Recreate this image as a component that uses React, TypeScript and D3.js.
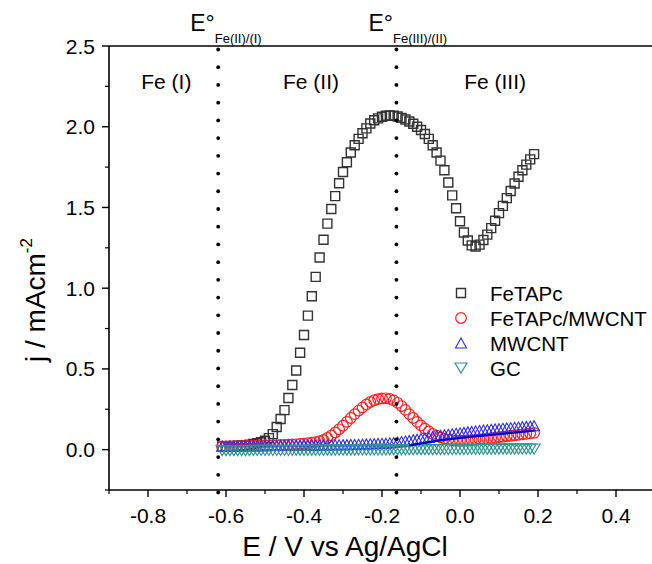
import React from "react";
import * as d3 from "d3";

const E_VALUES = [
  -0.61, -0.60, -0.59, -0.58, -0.57, -0.56, -0.55, -0.54, -0.53, -0.52, -0.51, -0.50,
  -0.49, -0.48, -0.47, -0.46, -0.45, -0.44, -0.43, -0.42, -0.41, -0.40,
  -0.39, -0.38, -0.37, -0.36, -0.35, -0.34, -0.33, -0.32, -0.31, -0.30,
  -0.29, -0.28, -0.27, -0.26, -0.25, -0.24, -0.23, -0.22, -0.21, -0.20,
  -0.19, -0.18, -0.17, -0.16, -0.15, -0.14, -0.13, -0.12, -0.11, -0.10,
  -0.09, -0.08, -0.07, -0.06, -0.05, -0.04, -0.03, -0.02, -0.01, 0.00,
  0.01, 0.02, 0.03, 0.04, 0.05, 0.06, 0.07, 0.08, 0.09, 0.10,
  0.11, 0.12, 0.13, 0.14, 0.15, 0.16, 0.17, 0.18, 0.19,
];

const FETAPC = [
  0.020, 0.020, 0.021, 0.022, 0.024, 0.026, 0.028, 0.031, 0.035, 0.040, 0.046, 0.055,
  0.071, 0.096, 0.140, 0.190, 0.245, 0.320, 0.400, 0.490, 0.600, 0.710,
  0.830, 0.950, 1.070, 1.190, 1.300, 1.400, 1.490, 1.570, 1.650, 1.720,
  1.780, 1.840, 1.885, 1.925, 1.960, 1.990, 2.020, 2.040, 2.052, 2.062,
  2.068, 2.070, 2.068, 2.063, 2.055, 2.045, 2.032, 2.018, 2.000, 1.980,
  1.955, 1.925, 1.885, 1.840, 1.790, 1.730, 1.655, 1.575, 1.495, 1.415,
  1.345, 1.295, 1.265, 1.258, 1.270, 1.298, 1.332, 1.372, 1.418, 1.465,
  1.510, 1.558, 1.602, 1.648, 1.690, 1.730, 1.765, 1.798, 1.830,
];

const FETAPC_MWCNT = [
  0.020, 0.020, 0.021, 0.021, 0.022, 0.022, 0.023, 0.023, 0.024, 0.024, 0.025, 0.026,
  0.026, 0.027, 0.028, 0.029, 0.030, 0.031, 0.032, 0.033, 0.035, 0.037,
  0.040, 0.043, 0.047, 0.052, 0.060, 0.072, 0.088, 0.106, 0.126, 0.148,
  0.172, 0.196, 0.220, 0.242, 0.262, 0.280, 0.295, 0.306, 0.313, 0.317,
  0.318, 0.314, 0.305, 0.290, 0.270, 0.246, 0.220, 0.196, 0.172, 0.150,
  0.130, 0.113, 0.098, 0.086, 0.076, 0.068, 0.062, 0.058, 0.056, 0.055,
  0.056, 0.057, 0.059, 0.061, 0.063, 0.065, 0.068, 0.071, 0.074, 0.077,
  0.080, 0.083, 0.086, 0.089, 0.092, 0.095, 0.098, 0.101, 0.104,
];

const MWCNT = [
  0.022, 0.022, 0.023, 0.023, 0.023, 0.024, 0.024, 0.024, 0.025, 0.025, 0.025, 0.025,
  0.026, 0.026, 0.026, 0.026, 0.027, 0.027, 0.027, 0.027, 0.027, 0.028,
  0.028, 0.028, 0.028, 0.029, 0.029, 0.029, 0.030, 0.030, 0.030, 0.031,
  0.031, 0.032, 0.032, 0.033, 0.034, 0.035, 0.036, 0.037, 0.038, 0.039,
  0.040, 0.042, 0.044, 0.047, 0.050, 0.053, 0.057, 0.061, 0.065, 0.069,
  0.073, 0.077, 0.081, 0.085, 0.089, 0.092, 0.095, 0.098, 0.101, 0.104,
  0.107, 0.110, 0.113, 0.116, 0.118, 0.121, 0.123, 0.126, 0.128, 0.130,
  0.132, 0.134, 0.136, 0.138, 0.140, 0.142, 0.144, 0.146, 0.148,
];

const GC = [
  -0.006, -0.006, -0.006, -0.006, -0.006, -0.006, -0.006, -0.006, -0.005, -0.005, -0.005, -0.005,
  -0.005, -0.005, -0.005, -0.005, -0.005, -0.005, -0.004, -0.004, -0.004, -0.004,
  -0.004, -0.004, -0.004, -0.004, -0.004, -0.003, -0.003, -0.003, -0.003, -0.003,
  -0.003, -0.003, -0.003, -0.002, -0.002, -0.002, -0.002, -0.002, -0.002, -0.002,
  -0.002, -0.001, -0.001, -0.001, -0.001, -0.001, -0.001, -0.001, 0.000, 0.000,
  0.000, 0.000, 0.000, 0.000, 0.000, 0.001, 0.001, 0.001, 0.001, 0.001,
  0.001, 0.001, 0.002, 0.002, 0.002, 0.002, 0.002, 0.002, 0.003, 0.003,
  0.003, 0.003, 0.003, 0.003, 0.004, 0.004, 0.004, 0.004, 0.004,
];

const MWCNT_LINE_E = [-0.13, -0.10, -0.05, 0.00, 0.05, 0.10, 0.15, 0.19];
const MWCNT_LINE_J = [0.026, 0.038, 0.058, 0.072, 0.084, 0.096, 0.108, 0.118];

const X_TICKS = [-0.8, -0.6, -0.4, -0.2, 0.0, 0.2, 0.4];
const X_MINOR = [-0.9, -0.7, -0.5, -0.3, -0.1, 0.1, 0.3];
const Y_TICKS = [0.0, 0.5, 1.0, 1.5, 2.0, 2.5];
const Y_MINOR = [-0.25, 0.25, 0.75, 1.25, 1.75, 2.25];

const E_STD = [-0.62, -0.163];
const E_STD_SUB = ["Fe(II)/(I)", "Fe(III)/(II)"];
const REGION_LABELS = ["Fe (I)", "Fe (II)", "Fe (III)"];
const REGION_E = [-0.753, -0.382, 0.09];

const LEGEND = ["FeTAPc", "FeTAPc/MWCNT", "MWCNT", "GC"];

const FONT = "'Liberation Sans', Arial, Helvetica, sans-serif";

const sq = (cx: number, cy: number, s: number) =>
  `M${cx - s / 2},${cy - s / 2}h${s}v${s}h${-s}Z`;
const triUp = (cx: number, cy: number, w: number, h: number) =>
  `M${cx},${cy - h / 2}L${cx + w / 2},${cy + h / 2}L${cx - w / 2},${cy + h / 2}Z`;
const triDown = (cx: number, cy: number, w: number, h: number) =>
  `M${cx},${cy + h / 2}L${cx + w / 2},${cy - h / 2}L${cx - w / 2},${cy - h / 2}Z`;

const COLORS = {
  sq: "#333333",
  circ: "#ff2020",
  up: "#2c2cff",
  down: "#2f9490",
  line: "#0000cc",
};

function Marker({ kind, cx, cy }: { kind: number; cx: number; cy: number }) {
  if (kind === 0)
    return <path d={sq(cx, cy, 9)} fill="none" stroke={COLORS.sq} strokeWidth={1.4} />;
  if (kind === 1)
    return <circle cx={cx} cy={cy} r={5.3} fill="none" stroke={COLORS.circ} strokeWidth={1.2} />;
  if (kind === 2)
    return <path d={triUp(cx, cy, 11, 10)} fill="none" stroke={COLORS.up} strokeWidth={1.1} />;
  return <path d={triDown(cx, cy, 12, 10)} fill="none" stroke={COLORS.down} strokeWidth={1.2} />;
}

export default function App() {
  const W = 652;
  const H = 564;
  const x = d3.scaleLinear().domain([-0.9, 0.5]).range([109, 655]);
  const y = d3.scaleLinear().domain([-0.25, 2.5]).range([490, 46]);
  const x0 = x(-0.9);
  const yTop = y(2.5);
  const yBot = y(-0.25);

  const lineGen = d3
    .line<number>()
    .x((_, i) => x(MWCNT_LINE_E[i]))
    .y((d) => y(d));

  const dotYs = d3.range(yTop + 3.5, yBot + 4, 17.72);

  const series = [FETAPC, FETAPC_MWCNT, MWCNT, GC];

  return (
    <svg
      width={W}
      height={H}
      style={{ position: "absolute", left: 0, top: 0, background: "#fff" }}
      fontFamily={FONT}
    >
      <rect x={0} y={0} width={W} height={H} fill="#fff" />

      {/* series */}
      {series.map((vals, k) => (
        <g key={k}>
          {vals.map((v, i) => (
            <Marker key={i} kind={k} cx={x(E_VALUES[i])} cy={y(v)} />
          ))}
        </g>
      ))}
      <path d={lineGen(MWCNT_LINE_J) || ""} fill="none" stroke={COLORS.line} strokeWidth={2} />

      {/* dotted standard potential lines */}
      {E_STD.map((e, k) => (
        <g key={k}>
          {dotYs.map((yy, i) => (
            <circle key={i} cx={x(e)} cy={yy} r={1.9} fill="#000" />
          ))}
        </g>
      ))}

      {/* axes */}
      <line x1={x0} x2={x0} y1={yTop} y2={yBot} stroke="#000" strokeWidth={1.6} />
      <line x1={x0} x2={W} y1={yBot} y2={yBot} stroke="#000" strokeWidth={1.6} />
      <line x1={x0} x2={W} y1={yTop} y2={yTop} stroke="#000" strokeWidth={1.6} />

      {Y_TICKS.map((t) => (
        <g key={t}>
          <line x1={x0 - 7} x2={x0} y1={y(t)} y2={y(t)} stroke="#000" strokeWidth={1.4} />
          <text x={x0 - 14} y={y(t) + 7.5} textAnchor="end" fontSize={21}>
            {t.toFixed(1)}
          </text>
        </g>
      ))}
      {Y_MINOR.map((t) => (
        <line key={t} x1={x0 - 4} x2={x0} y1={y(t)} y2={y(t)} stroke="#000" strokeWidth={1.2} />
      ))}
      {X_TICKS.map((t) => (
        <g key={t}>
          <line x1={x(t)} x2={x(t)} y1={yBot} y2={yBot + 7} stroke="#000" strokeWidth={1.4} />
          <text x={x(t)} y={yBot + 33} textAnchor="middle" fontSize={21}>
            {t.toFixed(1)}
          </text>
        </g>
      ))}
      {X_MINOR.map((t) => (
        <line key={t} x1={x(t)} x2={x(t)} y1={yBot} y2={yBot + 4} stroke="#000" strokeWidth={1.2} />
      ))}

      {/* axis titles */}
      <text x={345} y={556} textAnchor="middle" fontSize={28}>
        E / V vs Ag/AgCl
      </text>
      <text transform="translate(45,300) rotate(-90)" textAnchor="middle" fontSize={28}>
        j / mAcm
        <tspan fontSize={17} dy={-13}>
          -2
        </tspan>
      </text>

      {/* E° labels */}
      {E_STD.map((e, k) => (
        <text key={k} x={x(e) - 28} y={31} fontSize={23}>
          E°
          <tspan fontSize={13} dy={12}>
            {E_STD_SUB[k]}
          </tspan>
        </text>
      ))}

      {/* region labels */}
      {REGION_LABELS.map((s, k) => (
        <text key={k} x={x(REGION_E[k])} y={89} textAnchor="middle" fontSize={21}>
          {s}
        </text>
      ))}

      {/* legend */}
      {LEGEND.map((s, k) => (
        <g key={k}>
          <Marker kind={k} cx={461} cy={293 + k * 25} />
          <text x={490} y={293 + k * 25 + 7.5} fontSize={20.5}>
            {s}
          </text>
        </g>
      ))}
    </svg>
  );
}
